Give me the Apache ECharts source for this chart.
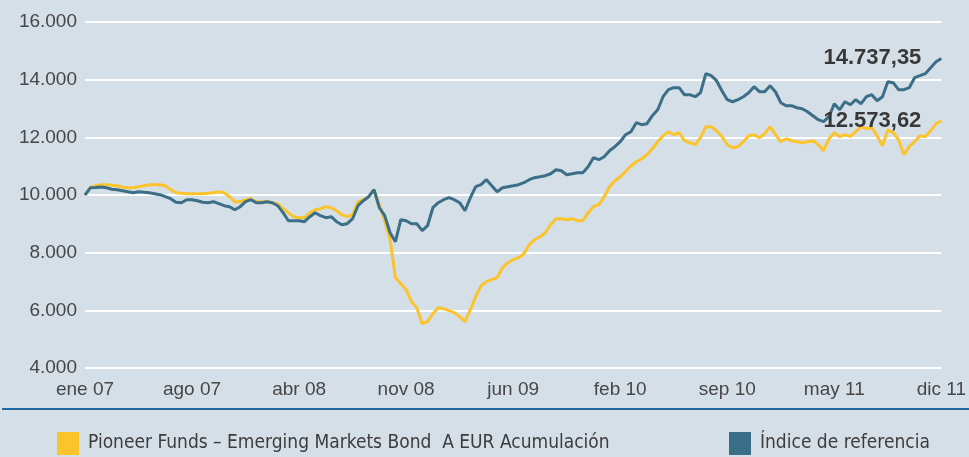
<!DOCTYPE html>
<html>
<head>
<meta charset="utf-8">
<script src="https://cdn.jsdelivr.net/npm/echarts@6/dist/echarts.min.js"></script>
<style>
  html, body { margin: 0; padding: 0; background: #d5dfe7; }
  #chart { width: 969px; height: 457px; }
</style>
</head>
<body>
<div id="chart"></div>
<script>
// Series names
const fundName = 'Pioneer Funds – Emerging Markets Bond  A EUR Acumulación';
const indexName = 'Índice de referencia';

// Axis tick labels (one every 20 observations)
const tickLabels = ['ene 07', 'ago 07', 'abr 08', 'nov 08', 'jun 09', 'feb 10', 'sep 10', 'may 11', 'dic 11'];
const tickStep = 20;

// Fund value (base 10.000)
const fundValues = [
  10000, 10260, 10322, 10357, 10357, 10340, 10322, 10270, 10253, 10253,
  10288, 10322, 10357, 10357, 10357, 10322, 10183, 10080, 10062, 10045,
  10045, 10045, 10045, 10062, 10080, 10114, 10080, 9941, 9767, 9767,
  9837, 9871, 9767, 9767, 9767, 9733, 9698, 9525, 9386, 9247,
  9212, 9212, 9386, 9490, 9525, 9594, 9559, 9455, 9317, 9247,
  9317, 9767, 9837, 9941, 10183, 9663, 9108, 8450, 7132, 6923,
  6715, 6299, 6091, 5536, 5606, 5883, 6091, 6057, 5987, 5918,
  5779, 5606, 6022, 6473, 6854, 6993, 7062, 7132, 7478, 7652,
  7756, 7826, 7964, 8276, 8450, 8553, 8692, 8970, 9178, 9178,
  9143, 9178, 9108, 9108, 9386, 9594, 9663, 9941, 10288, 10496,
  10634, 10808, 11016, 11155, 11259, 11397, 11605, 11848, 12056, 12195,
  12091, 12160, 11883, 11813, 11744, 11987, 12368, 12368, 12230, 12022,
  11744, 11640, 11675, 11848, 12056, 12091, 11987, 12126, 12368, 12091,
  11848, 11952, 11883, 11848, 11813, 11848, 11883, 11744, 11536, 11952,
  12160, 12022, 12091, 12022, 12195, 12368, 12299, 12334, 12056, 11709,
  12264, 12160, 11917, 11397, 11675, 11848, 12056, 12022, 12230, 12473,
  12573.62
];

// Benchmark index value (base 10.000)
const indexValues = [
  10000, 10250, 10260, 10280, 10253, 10201, 10183, 10149, 10114, 10080,
  10114, 10097, 10080, 10045, 10010, 9941, 9871, 9750, 9733, 9837,
  9837, 9802, 9750, 9733, 9767, 9698, 9629, 9594, 9490, 9594,
  9767, 9837, 9733, 9733, 9767, 9733, 9629, 9386, 9108, 9108,
  9108, 9074, 9247, 9386, 9282, 9212, 9247, 9074, 8970, 9004,
  9178, 9629, 9802, 9941, 10183, 9559, 9282, 8692, 8380, 9143,
  9108, 9004, 9004, 8762, 8935, 9559, 9733, 9837, 9906, 9837,
  9733, 9455, 9906, 10288, 10357, 10530, 10322, 10114, 10253, 10288,
  10322, 10357, 10426, 10530, 10600, 10634, 10669, 10738, 10877, 10843,
  10704, 10738, 10773, 10773, 10981, 11293, 11224, 11328, 11536, 11675,
  11848, 12091, 12195, 12507, 12438, 12473, 12750, 12958, 13409, 13652,
  13721, 13721, 13478, 13478, 13409, 13548, 14207, 14137, 13964, 13617,
  13305, 13235, 13305, 13409, 13548, 13756, 13582, 13582, 13791, 13582,
  13201, 13097, 13097, 13027, 12993, 12889, 12750, 12611, 12542, 12715,
  13166, 12958, 13236, 13131, 13305, 13166, 13409, 13478, 13270, 13409,
  13929, 13895, 13652, 13652, 13721, 14068, 14137, 14207, 14415, 14623,
  14737.35
];

// Category index for each observation
const categories = fundValues.map((_, i) => i);

// Spanish number formatting: 14.737,35
function fmtEs(v, decimals) {
  const parts = v.toFixed(decimals).split('.');
  const intPart = parts[0].replace(/\B(?=(\d{3})+(?!\d))/g, '.');
  return decimals ? intPart + ',' + parts[1] : intPart;
}

const fundColor = '#fcc42c';
const indexColor = '#3b6e87';
const textFont = "'Liberation Sans', Arial, sans-serif";
const legendFont = "'Liberation Sans Narrow', 'DejaVu Sans Condensed', sans-serif";

// Value label shown just left of each line's last point
const endLabel = {
  show: true,
  formatter: p => fmtEs(p.value, 2),
  align: 'right',
  verticalAlign: 'middle',
  distance: 0,
  offset: [-20, 0],
  fontFamily: textFont,
  fontWeight: 'bold',
  fontSize: 22,
  color: '#383838'
};

const legendText = { fontFamily: legendFont, fontSize: 19, color: '#3d3d3d', padding: [0, 0, 0, 4] };

const chart = echarts.init(document.getElementById('chart'), null, { renderer: 'canvas' });

chart.setOption({
  backgroundColor: '#d5dfe7',
  animation: false,
  grid: { left: 85, right: 24, top: 22, bottom: 89, containLabel: false },
  xAxis: {
    type: 'category',
    data: categories,
    boundaryGap: false,
    axisLine: { show: false },
    axisTick: { show: false },
    splitLine: { show: false },
    axisLabel: {
      interval: tickStep - 1,
      formatter: (val, idx) => tickLabels[idx / tickStep] || '',
      margin: 12,
      fontFamily: textFont,
      fontSize: 19,
      color: '#474747'
    }
  },
  yAxis: {
    type: 'value',
    min: 4000,
    max: 16000,
    interval: 2000,
    axisLine: { show: false },
    axisTick: { show: false },
    splitLine: { lineStyle: { color: '#ffffff', width: 2 } },
    axisLabel: {
      margin: 8,
      formatter: v => fmtEs(v, 0),
      fontFamily: textFont,
      fontSize: 19,
      color: '#474747'
    }
  },
  legend: [
    {
      data: [fundName],
      left: 57,
      top: 432,
      padding: 0,
      icon: 'rect',
      itemWidth: 22,
      itemHeight: 23,
      itemGap: 9,
      selectedMode: false,
      textStyle: legendText
    },
    {
      data: [indexName],
      left: 729,
      top: 432,
      padding: 0,
      icon: 'rect',
      itemWidth: 22,
      itemHeight: 23,
      itemGap: 9,
      selectedMode: false,
      textStyle: legendText
    }
  ],
  graphic: [
    {
      type: 'line',
      shape: { x1: 2, y1: 409, x2: 969, y2: 409 },
      style: { stroke: '#2169a3', lineWidth: 2 }
    }
  ],
  series: [
    {
      name: fundName,
      type: 'line',
      data: fundValues,
      showSymbol: false,
      symbol: 'none',
      color: fundColor,
      lineStyle: { color: fundColor, width: 3 },
      endLabel: endLabel
    },
    {
      name: indexName,
      type: 'line',
      data: indexValues,
      showSymbol: false,
      symbol: 'none',
      color: indexColor,
      lineStyle: { color: indexColor, width: 3 },
      endLabel: endLabel
    }
  ]
});
</script>
</body>
</html>
